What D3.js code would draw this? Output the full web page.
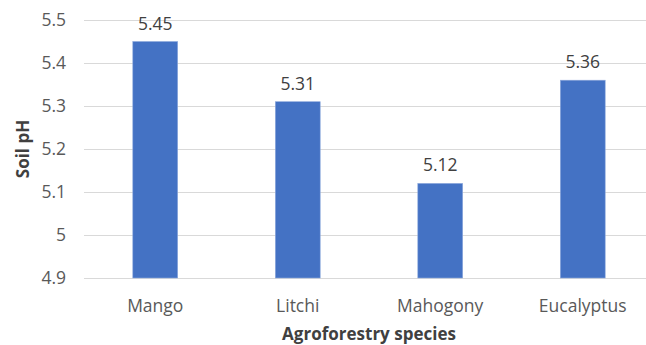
<!DOCTYPE html>
<html>
<head>
<meta charset="utf-8">
<script src="https://cdn.jsdelivr.net/npm/d3@7"></script>
<style>
  body { margin: 0; background: #fff; }
  text { font-family: "Open Sans", sans-serif; }
</style>
</head>
<body>
<div id="chart"></div>
<script>
// data
const species = ["Mango", "Litchi", "Mahogony", "Eucalyptus"];
const soilPH = [5.45, 5.31, 5.12, 5.36];
const yTicks = [4.9, 5, 5.1, 5.2, 5.3, 5.4, 5.5];

const W = 646, H = 345;
const plot = { left: 84, right: 654, top: 20, bottom: 278 };

const svg = d3.select("#chart").append("svg")
  .attr("width", W).attr("height", H);

const x = d3.scaleBand()
  .domain(species)
  .range([plot.left, plot.right])
  .paddingInner(0.685)
  .paddingOuter(0.3425);

const y = d3.scaleLinear()
  .domain([4.9, 5.5])
  .range([plot.bottom, plot.top]);

// gridlines
svg.append("g")
  .selectAll("line")
  .data(yTicks)
  .join("line")
  .attr("x1", plot.left).attr("x2", plot.right)
  .attr("y1", d => y(d) + 0.5).attr("y2", d => y(d) + 0.5)
  .attr("stroke", "#d9d9d9").attr("stroke-width", 1);

// y tick labels
svg.append("g")
  .selectAll("text")
  .data(yTicks)
  .join("text")
  .attr("x", 66)
  .attr("y", d => y(d))
  .attr("dy", "0.35em")
  .attr("text-anchor", "end")
  .attr("font-size", 17.5)
  .attr("fill", "#595959")
  .text(d => d3.format("")(d));

// bars
svg.append("g")
  .selectAll("rect")
  .data(species)
  .join("rect")
  .attr("x", d => x(d))
  .attr("y", (d, i) => y(soilPH[i]))
  .attr("width", x.bandwidth())
  .attr("height", (d, i) => y(4.9) - y(soilPH[i]))
  .attr("fill", "#4472c4")
  .attr("stroke", "#8faadc")
  .attr("stroke-width", 0.6);

// value labels
svg.append("g")
  .selectAll("text")
  .data(species)
  .join("text")
  .attr("x", d => x(d) + x.bandwidth() / 2)
  .attr("y", (d, i) => y(soilPH[i]) - 12)
  .attr("text-anchor", "middle")
  .attr("font-size", 17.5)
  .attr("fill", "#404040")
  .text((d, i) => soilPH[i]);

// category labels
svg.append("g")
  .selectAll("text")
  .data(species)
  .join("text")
  .attr("x", d => x(d) + x.bandwidth() / 2)
  .attr("y", 312)
  .attr("text-anchor", "middle")
  .attr("font-size", 17.5)
  .attr("fill", "#595959")
  .text(d => d);

// axis titles
svg.append("text")
  .attr("x", (plot.left + plot.right) / 2)
  .attr("y", 340)
  .attr("text-anchor", "middle")
  .attr("font-size", 17)
  .attr("font-weight", "bold")
  .attr("fill", "#404040")
  .text("Agroforestry species");

svg.append("text")
  .attr("transform", `translate(29,${(plot.top + plot.bottom) / 2}) rotate(-90)`)
  .attr("text-anchor", "middle")
  .attr("font-size", 17)
  .attr("font-weight", "bold")
  .attr("fill", "#404040")
  .text("Soil pH");
</script>
</body>
</html>
